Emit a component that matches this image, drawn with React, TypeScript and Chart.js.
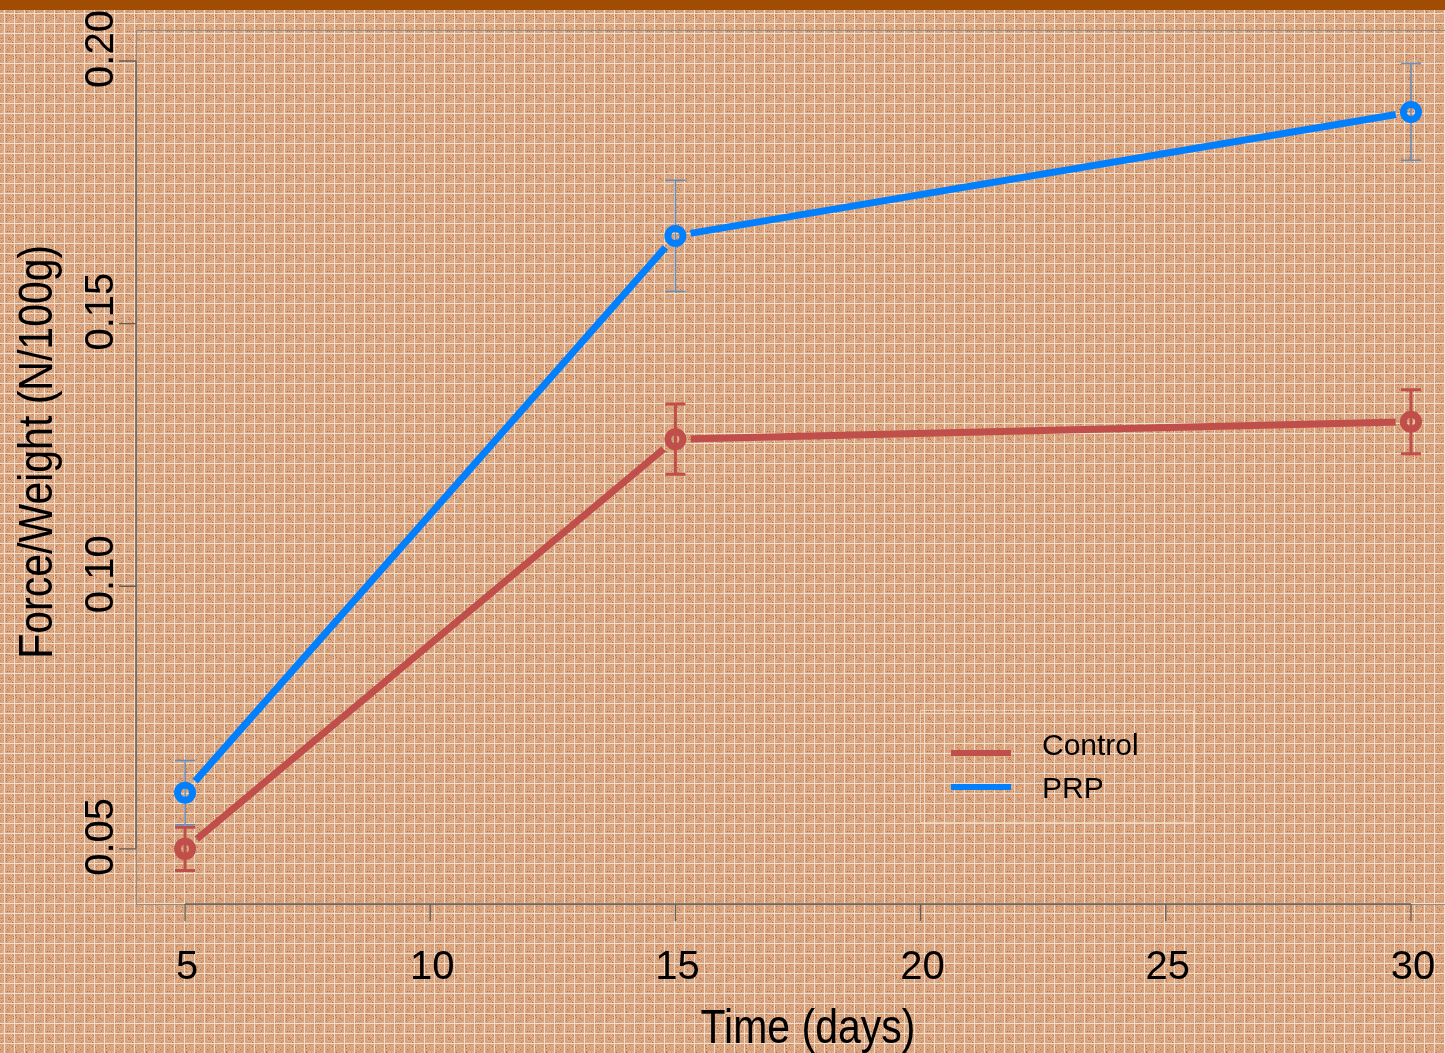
import React, { useEffect, useRef } from "react";
import { Chart, registerables } from "chart.js";

Chart.register(...registerables);

const days = [5, 15, 30];
const controlMean = [0.05, 0.128, 0.1313];
const controlErr = [0.0041, 0.0067, 0.0061];
const prpMean = [0.0607, 0.1667, 0.1903];
const prpErr = [0.0061, 0.0106, 0.0092];

const seriesNames = ["Control", "PRP"];
const seriesColors = ["rgb(192,78,74)", "rgb(0,128,255)"];
const errColors = ["rgb(192,78,74)", "rgba(80,135,195,0.85)"];

const xTicks = [5, 10, 15, 20, 25, 30];
const xTickLabels = ["5", "10", "15", "20", "25", "30"];
const yTicks = [0.05, 0.1, 0.15, 0.2];
const yTickLabels = ["0.05", "0.10", "0.15", "0.20"];

const xTitle = "Time (days)";
const yTitle = "Force/Weight (N/100g)";

const FONT = '"Liberation Sans", Arial, Helvetica, sans-serif';
const GAP = 15.5;

function hash(i: number, j: number) {
  let h = Math.imul(i, 374761393) + Math.imul(j, 668265263);
  h = Math.imul(h ^ (h >>> 13), 1274126177);
  h = h ^ (h >>> 16);
  return (h >>> 0) / 4294967296;
}

function makeTile(): HTMLCanvasElement {
  const size = 40;
  const c = document.createElement("canvas");
  c.width = size;
  c.height = size;
  const g = c.getContext("2d")!;
  const img = g.createImageData(size, size);
  for (let y = 0; y < size; y++) {
    for (let x = 0; x < size; x++) {
      const r = hash(x + 7, y + 13);
      let col: number[];
      if (r < 0.035) col = [198, 108, 48];
      else if (r < 0.3) col = [206, 152, 114];
      else if (r < 0.68) col = [215, 164, 127];
      else col = [224, 176, 140];
      const gx = (x - 4 + 40) % 10 === 0;
      const gy = (y - 3 + 40) % 10 === 0;
      if (gx || gy) col = [242, 222, 204];
      const k = (y * size + x) * 4;
      img.data[k] = col[0];
      img.data[k + 1] = col[1];
      img.data[k + 2] = col[2];
      img.data[k + 3] = 255;
    }
  }
  g.putImageData(img, 0, 0);
  return c;
}

const bgPlugin = {
  id: "bgTexture",
  beforeDraw(chart: any) {
    const ctx = chart.ctx;
    ctx.save();
    const pat = ctx.createPattern(makeTile(), "repeat");
    ctx.fillStyle = pat;
    ctx.fillRect(0, 0, chart.width, chart.height);
    ctx.restore();
  },
};

const gapPlugin = {
  id: "lineGaps",
  beforeDatasetDraw(chart: any, args: any) {
    if (args.index > 1) return;
    const means = args.index === 0 ? controlMean : prpMean;
    const xs = chart.scales.x;
    const ys = chart.scales.y;
    const ctx = chart.ctx;
    ctx.save();
    ctx.beginPath();
    ctx.rect(0, 0, chart.width, chart.height);
    days.forEach((d, i) => {
      const px = xs.getPixelForValue(d);
      const py = ys.getPixelForValue(means[i]);
      ctx.moveTo(px + GAP, py);
      ctx.arc(px, py, GAP, 0, Math.PI * 2);
    });
    ctx.clip("evenodd");
  },
  afterDatasetDraw(chart: any, args: any) {
    if (args.index > 1) return;
    chart.ctx.restore();
  },
};

const axesPlugin = {
  id: "rAxes",
  beforeDatasetsDraw(chart: any) {
    const ctx = chart.ctx;
    const a = chart.chartArea;
    const xs = chart.scales.x;
    const ys = chart.scales.y;
    ctx.save();
    // box
    ctx.strokeStyle = "rgba(140,135,130,0.9)";
    ctx.lineWidth = 1;
    ctx.strokeRect(a.left + 0.5, a.top + 0.5, a.right - a.left, a.bottom - a.top);
    // y axis
    ctx.strokeStyle = "rgb(100,92,85)";
    ctx.lineWidth = 1.3;
    const y0 = ys.getPixelForValue(yTicks[0]);
    const y1 = ys.getPixelForValue(yTicks[yTicks.length - 1]);
    ctx.beginPath();
    ctx.moveTo(a.left, y0);
    ctx.lineTo(a.left, y1);
    yTicks.forEach((t) => {
      const py = ys.getPixelForValue(t);
      ctx.moveTo(a.left, py);
      ctx.lineTo(a.left - 17, py);
    });
    ctx.stroke();
    // x axis
    const x0 = xs.getPixelForValue(xTicks[0]);
    const x1 = xs.getPixelForValue(xTicks[xTicks.length - 1]);
    ctx.beginPath();
    ctx.moveTo(x0, a.bottom);
    ctx.lineTo(x1, a.bottom);
    xTicks.forEach((t) => {
      const px = xs.getPixelForValue(t);
      ctx.moveTo(px, a.bottom);
      ctx.lineTo(px, a.bottom + 17);
    });
    ctx.stroke();
    // error bars
    [controlMean, prpMean].forEach((means, s) => {
      const errs = s === 0 ? controlErr : prpErr;
      ctx.strokeStyle = errColors[s];
      ctx.lineWidth = s === 0 ? 3 : 1.5;
      days.forEach((d, i) => {
        const px = xs.getPixelForValue(d);
        const top = ys.getPixelForValue(means[i] + errs[i]);
        const bot = ys.getPixelForValue(means[i] - errs[i]);
        ctx.beginPath();
        ctx.moveTo(px, top);
        ctx.lineTo(px, bot);
        ctx.moveTo(px - 10, top);
        ctx.lineTo(px + 10, top);
        ctx.moveTo(px - 10, bot);
        ctx.lineTo(px + 10, bot);
        ctx.stroke();
      });
    });
    ctx.restore();
  },
  afterDraw(chart: any) {
    const ctx = chart.ctx;
    const a = chart.chartArea;
    const xs = chart.scales.x;
    const ys = chart.scales.y;
    ctx.save();
    ctx.fillStyle = "#000";
    ctx.font = `40px ${FONT}`;
    // x tick labels
    ctx.textAlign = "center";
    ctx.textBaseline = "alphabetic";
    xTicks.forEach((t, i) => {
      ctx.fillText(xTickLabels[i], xs.getPixelForValue(t) + 2, a.bottom + 75);
    });
    // y tick labels
    yTicks.forEach((t, i) => {
      const py = ys.getPixelForValue(t);
      ctx.save();
      ctx.translate(a.left - 23, py - 12);
      ctx.rotate(-Math.PI / 2);
      ctx.textAlign = "center";
      ctx.fillText(yTickLabels[i], 0, 0);
      ctx.restore();
    });
    // titles
    ctx.font = `41px ${FONT}`;
    ctx.save();
    ctx.translate((a.left + a.right) / 2 + 10, a.bottom + 139);
    ctx.scale(1, 1.15);
    ctx.textAlign = "center";
    ctx.fillText(xTitle, 0, 0);
    ctx.restore();
    ctx.save();
    ctx.translate(a.left - 84, ys.getPixelForValue(0.1256));
    ctx.rotate(-Math.PI / 2);
    ctx.scale(1, 1.17);
    ctx.textAlign = "center";
    ctx.fillText(yTitle, 0, 0);
    ctx.restore();
    // legend
    ctx.strokeStyle = "rgba(245,228,214,0.6)";
    ctx.lineWidth = 1;
    ctx.strokeRect(920.5, 710.5, 273, 112);
    ctx.font = `30px ${FONT}`;
    ctx.textAlign = "left";
    const ly = [753, 787];
    const ty = [755, 798];
    seriesNames.forEach((n, i) => {
      ctx.strokeStyle = seriesColors[i];
      ctx.lineWidth = 6;
      ctx.beginPath();
      ctx.moveTo(951, ly[i]);
      ctx.lineTo(1011, ly[i]);
      ctx.stroke();
      ctx.fillStyle = "#000";
      ctx.fillText(n, 1042, ty[i]);
    });
    // top bar
    ctx.fillStyle = "rgb(160,76,2)";
    ctx.fillRect(0, 0, chart.width, 10);
    ctx.restore();
  },
};

export default function App() {
  const ref = useRef<HTMLCanvasElement | null>(null);
  useEffect(() => {
    if (!ref.current) return;
    const pts = (means: number[]) => days.map((d, i) => ({ x: d, y: means[i] }));
    const chart = new Chart(ref.current, {
      type: "line",
      data: {
        datasets: [
          {
            label: seriesNames[0],
            data: pts(controlMean),
            borderColor: seriesColors[0],
            borderWidth: 7,
            pointRadius: 0,
            tension: 0,
          },
          {
            label: seriesNames[1],
            data: pts(prpMean),
            borderColor: seriesColors[1],
            borderWidth: 7,
            pointRadius: 0,
            tension: 0,
          },
          {
            label: seriesNames[0] + " points",
            data: pts(controlMean),
            showLine: false,
            pointStyle: "circle",
            pointRadius: 7.5,
            pointBorderWidth: 7,
            pointBorderColor: seriesColors[0],
            pointBackgroundColor: "rgba(0,0,0,0)",
          },
          {
            label: seriesNames[1] + " points",
            data: pts(prpMean),
            showLine: false,
            pointStyle: "circle",
            pointRadius: 7.5,
            pointBorderWidth: 7,
            pointBorderColor: seriesColors[1],
            pointBackgroundColor: "rgba(0,0,0,0)",
          },
        ],
      },
      options: {
        animation: false,
        responsive: false,
        devicePixelRatio: 1,
        layout: { padding: { left: 136, top: 30, right: 20, bottom: 149 } },
        plugins: { legend: { display: false }, tooltip: { enabled: false } },
        events: [],
        scales: {
          x: { type: "linear", min: 4, max: 31, display: false },
          y: { type: "linear", min: 0.0395, max: 0.2059, display: false },
        },
      },
      plugins: [bgPlugin, gapPlugin, axesPlugin],
    });
    return () => chart.destroy();
  }, []);
  return (
    <div style={{ position: "absolute", left: 0, top: 0, width: 1445, height: 1053, overflow: "hidden" }}>
      <canvas ref={ref} width={1480} height={1053} style={{ display: "block", width: 1480, height: 1053 }} />
    </div>
  );
}
